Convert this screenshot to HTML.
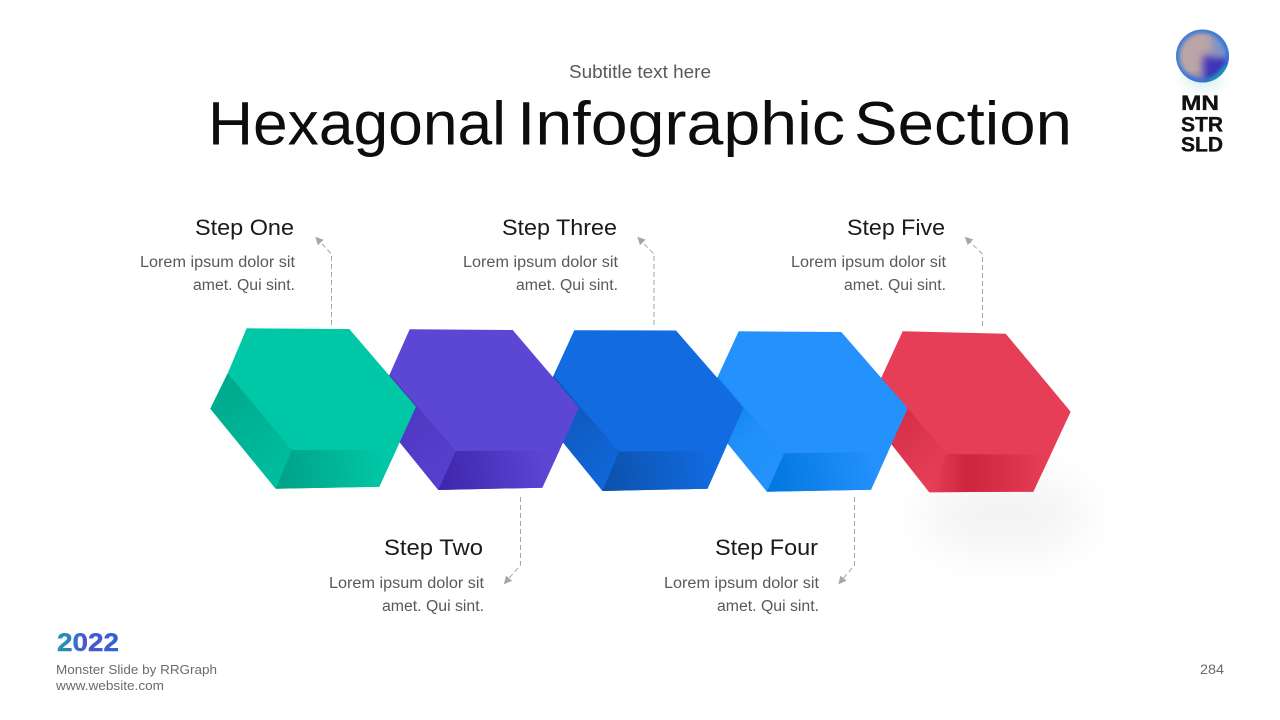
<!DOCTYPE html>
<html><head><meta charset="utf-8">
<style>html,body{margin:0;padding:0;background:#fff}svg{display:block}text{font-family:"Liberation Sans",sans-serif}</style>
</head><body>
<svg width="1280" height="720" viewBox="0 0 1280 720" xmlns="http://www.w3.org/2000/svg">
<defs>
<filter id="b1" x="-60%" y="-80%" width="220%" height="260%"><feGaussianBlur stdDeviation="22"/></filter>
<filter id="b2" x="-50%" y="-50%" width="200%" height="200%"><feGaussianBlur stdDeviation="5"/></filter>
<filter id="b3" x="-40%" y="-40%" width="180%" height="180%"><feGaussianBlur stdDeviation="4"/></filter>
<filter id="b4" x="-30%" y="-30%" width="160%" height="160%"><feGaussianBlur stdDeviation="2.2"/></filter>
<clipPath id="ball"><circle cx="1202.5" cy="56" r="26.5"/></clipPath>
<linearGradient id="yr" x1="0" x2="1" y1="0" y2="0"><stop offset="0" stop-color="#1d9bb0"/><stop offset=".5" stop-color="#4a55cf"/><stop offset="1" stop-color="#2f62d6"/></linearGradient>
<linearGradient id="gl" gradientUnits="userSpaceOnUse" x1="215" y1="390" x2="285" y2="470"><stop offset="0" stop-color="#00a98c"/><stop offset="1" stop-color="#00bd9e"/></linearGradient>
<linearGradient id="gb" gradientUnits="userSpaceOnUse" x1="280" y1="470" x2="385" y2="460"><stop offset="0" stop-color="#00a288"/><stop offset="1" stop-color="#00c8a6"/></linearGradient>
<linearGradient id="pl" gradientUnits="userSpaceOnUse" x1="385" y1="400" x2="450" y2="475"><stop offset="0" stop-color="#4d35bf"/><stop offset="1" stop-color="#5740cc"/></linearGradient>
<linearGradient id="pb" gradientUnits="userSpaceOnUse" x1="442" y1="475" x2="548" y2="460"><stop offset="0" stop-color="#3f27ad"/><stop offset="1" stop-color="#5c46d4"/></linearGradient>
<linearGradient id="bl" gradientUnits="userSpaceOnUse" x1="550" y1="400" x2="612" y2="475"><stop offset="0" stop-color="#0e57b8"/><stop offset="1" stop-color="#1167d8"/></linearGradient>
<linearGradient id="bb" gradientUnits="userSpaceOnUse" x1="606" y1="478" x2="712" y2="460"><stop offset="0" stop-color="#0d52ad"/><stop offset="1" stop-color="#126be0"/></linearGradient>
<linearGradient id="ll" gradientUnits="userSpaceOnUse" x1="720" y1="400" x2="775" y2="470"><stop offset="0" stop-color="#0f80ea"/><stop offset=".5" stop-color="#2090f8"/><stop offset="1" stop-color="#2491fd"/></linearGradient>
<linearGradient id="lb" gradientUnits="userSpaceOnUse" x1="770" y1="478" x2="875" y2="465"><stop offset="0" stop-color="#0277e0"/><stop offset="1" stop-color="#2491fd"/></linearGradient>
<linearGradient id="rl" gradientUnits="userSpaceOnUse" x1="880" y1="395" x2="935" y2="480"><stop offset="0" stop-color="#cf2a42"/><stop offset="1" stop-color="#e63e57"/></linearGradient>
<linearGradient id="rb" gradientUnits="userSpaceOnUse" x1="932" y1="470" x2="1045" y2="470"><stop offset="0" stop-color="#e63e57"/><stop offset=".3" stop-color="#ce2640"/><stop offset=".65" stop-color="#d92f48"/><stop offset="1" stop-color="#e63e57"/></linearGradient>
<marker id="ar" markerWidth="10" markerHeight="10" refX="7" refY="4" orient="auto" markerUnits="userSpaceOnUse"><path d="M0 0L8 4L0 8z" fill="#a6a6a6"/></marker>
</defs>
<rect width="1280" height="720" fill="#fff"/>

<!-- headings -->
<text x="569" y="78" textLength="142" lengthAdjust="spacingAndGlyphs" font-size="18" fill="#595959">Subtitle text here</text>
<g font-size="61" fill="#0d0d0d">
<text x="208" y="144.5" textLength="298" lengthAdjust="spacingAndGlyphs">Hexagonal</text>
<text x="517" y="144.5" textLength="328" lengthAdjust="spacingAndGlyphs">Infographic</text>
<text x="854" y="144.5" textLength="218" lengthAdjust="spacingAndGlyphs">Section</text>
</g>

<!-- logo -->
<ellipse cx="1203" cy="80" rx="20" ry="10" fill="#8fd8cc" opacity=".3" filter="url(#b2)"/>
<g clip-path="url(#ball)">
<rect x="1174" y="28" width="58" height="58" fill="#bba5a6"/>
<rect x="1203" y="56" width="34" height="34" fill="#3f36ba" filter="url(#b3)"/>
<rect x="1212" y="30" width="24" height="26" fill="#6f8fd2" opacity=".8" filter="url(#b3)"/>
<rect x="1180" y="76" width="24" height="12" fill="#5d62c0" opacity=".7" filter="url(#b3)"/>
<circle cx="1202.5" cy="56" r="26" fill="none" stroke="#2a74da" stroke-width="5.5" filter="url(#b4)"/>
<path d="M1226 66A26 26 0 0 1 1208 81" fill="none" stroke="#10a8a8" stroke-width="4" filter="url(#b4)"/>
</g>
<g font-size="21" font-weight="bold" fill="#111" stroke="#111" stroke-width=".35">
<text x="1181" y="110" textLength="38" lengthAdjust="spacingAndGlyphs">MN</text>
<text x="1181" y="131.5" textLength="42" lengthAdjust="spacingAndGlyphs">STR</text>
<text x="1181" y="151.5" textLength="42" lengthAdjust="spacingAndGlyphs">SLD</text>
</g>

<!-- shadow -->
<ellipse cx="1005" cy="515" rx="85" ry="42" fill="#000" opacity=".042" filter="url(#b1)"/>

<!-- hex 5 -->
<polygon points="902.7,331.3 1005.7,333.7 1070.7,411.7 1033.3,491.7 929.3,492.3 866,412 881.3,377.7" fill="#e63e57"/>
<polygon points="866,412 881.3,377.7 946.7,454 929.3,492.3" fill="url(#rl)"/>
<polygon points="946.7,454 929.3,492.3 1033.3,491.7 1050.5,455" fill="url(#rb)"/>
<!-- hex 4 -->
<polygon points="738.7,331.3 841.3,332 907.7,408.3 871,489.7 767,491.7 701,411 717.7,376.7" fill="#2491fd"/>
<polygon points="701,411 717.7,376.7 784,453.3 767,491.7" fill="url(#ll)"/>
<polygon points="784,453.3 767,491.7 871,489.7 888,452" fill="url(#lb)"/>
<!-- hex 3 -->
<polygon points="574.3,330.3 676,330.5 743.5,408 707.5,488.7 602.5,491 537,410.5 553.5,375.5" fill="#126be0"/>
<polygon points="537,410.5 553.5,375.5 619,451.5 602.5,491" fill="url(#bl)"/>
<polygon points="619,451.5 602.5,491 707.5,488.7 724.3,451" fill="url(#bb)"/>
<!-- hex 2 -->
<polygon points="409.7,329.3 512.7,330 579,407.7 542.3,487.7 438.3,490 373.5,410 389.7,374.3" fill="#5c46d4"/>
<polygon points="373.5,410 389.7,374.3 455.7,451 438.3,490" fill="url(#pl)"/>
<polygon points="455.7,451 438.3,490 542.3,487.7 559.6,450" fill="url(#pb)"/>
<!-- hex 1 -->
<polygon points="246.7,328.3 349.3,329 416,406.7 379.3,486.7 275.7,488.7 210.3,408.7 227.7,373.3" fill="#00c8a6"/>
<polygon points="210.3,408.7 227.7,373.3 291.7,450 275.7,488.7" fill="url(#gl)"/>
<polygon points="291.7,450 275.7,488.7 379.3,486.7 396.1,450" fill="url(#gb)"/>

<!-- connectors -->
<g fill="none" stroke="#a6a6a6" stroke-width="1" stroke-dasharray="5 3">
<path d="M331.5 325V254L316 237.5" marker-end="url(#ar)"/>
<path d="M654 325V254L638 237.5" marker-end="url(#ar)"/>
<path d="M982.5 326V254L965.5 237.5" marker-end="url(#ar)"/>
<path d="M520.5 497V565L504.5 583.5" marker-end="url(#ar)"/>
<path d="M854.5 497V565L839 583.5" marker-end="url(#ar)"/>
</g>

<!-- labels -->
<g font-size="22" fill="#1a1a1a">
<text x="195" y="235" textLength="99" lengthAdjust="spacingAndGlyphs">Step One</text>
<text x="502" y="235" textLength="115" lengthAdjust="spacingAndGlyphs">Step Three</text>
<text x="847" y="235" textLength="98" lengthAdjust="spacingAndGlyphs">Step Five</text>
<text x="384" y="555" textLength="99" lengthAdjust="spacingAndGlyphs">Step Two</text>
<text x="715" y="555" textLength="103" lengthAdjust="spacingAndGlyphs">Step Four</text>
</g>
<g font-size="15.5" fill="#595959">
<text x="140" y="267" textLength="155" lengthAdjust="spacingAndGlyphs">Lorem ipsum dolor sit</text>
<text x="193" y="290" textLength="102" lengthAdjust="spacingAndGlyphs">amet. Qui sint.</text>
<text x="463" y="267" textLength="155" lengthAdjust="spacingAndGlyphs">Lorem ipsum dolor sit</text>
<text x="516" y="290" textLength="102" lengthAdjust="spacingAndGlyphs">amet. Qui sint.</text>
<text x="791" y="267" textLength="155" lengthAdjust="spacingAndGlyphs">Lorem ipsum dolor sit</text>
<text x="844" y="290" textLength="102" lengthAdjust="spacingAndGlyphs">amet. Qui sint.</text>
<text x="329" y="588" textLength="155" lengthAdjust="spacingAndGlyphs">Lorem ipsum dolor sit</text>
<text x="382" y="611" textLength="102" lengthAdjust="spacingAndGlyphs">amet. Qui sint.</text>
<text x="664" y="588" textLength="155" lengthAdjust="spacingAndGlyphs">Lorem ipsum dolor sit</text>
<text x="717" y="611" textLength="102" lengthAdjust="spacingAndGlyphs">amet. Qui sint.</text>
</g>

<!-- footer -->
<text x="57" y="651" textLength="62" lengthAdjust="spacingAndGlyphs" font-size="25" font-weight="bold" fill="url(#yr)" stroke="url(#yr)" stroke-width=".4">2022</text>
<text x="56" y="674" textLength="161" lengthAdjust="spacingAndGlyphs" font-size="13" fill="#6b6b6b">Monster Slide  by RRGraph</text>
<text x="56" y="690" textLength="108" lengthAdjust="spacingAndGlyphs" font-size="13" fill="#6b6b6b">www.website.com</text>
<text x="1200" y="674" textLength="24" lengthAdjust="spacingAndGlyphs" font-size="14" fill="#6b6b6b">284</text>
</svg>
</body></html>
